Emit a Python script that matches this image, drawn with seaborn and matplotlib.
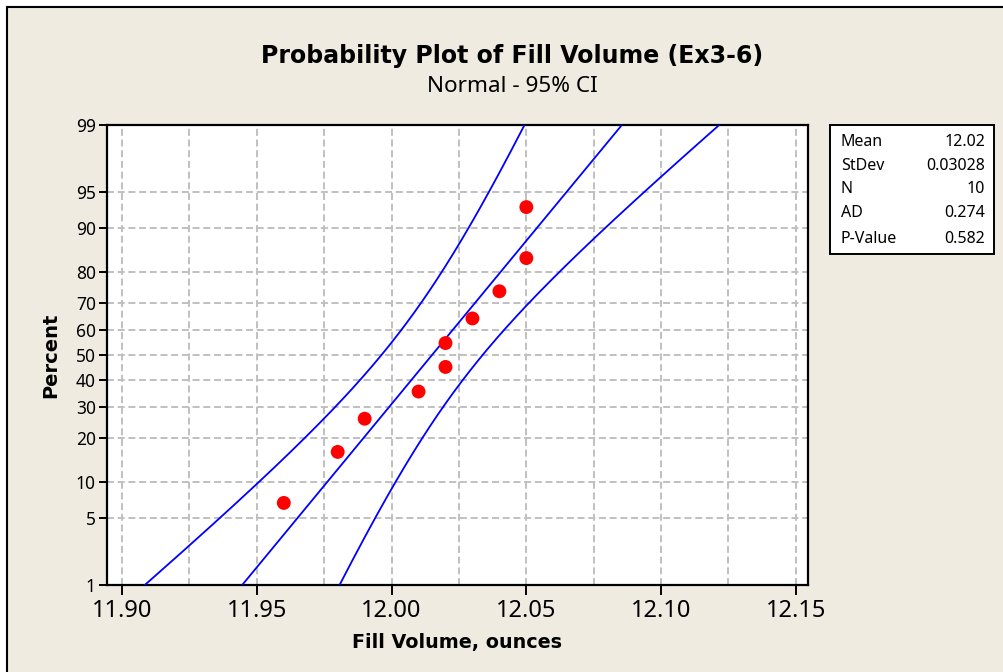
import numpy as np
import pandas as pd
import matplotlib
matplotlib.use("Agg")
import matplotlib.pyplot as plt
from matplotlib.patches import Rectangle
import seaborn as sns
from statistics import NormalDist

# ---------------- data ----------------
fill_volume = [11.96, 11.98, 11.99, 12.01, 12.02, 12.02, 12.03, 12.04, 12.05, 12.05]
percent_rank = [6.73, 16.35, 25.96, 35.58, 45.19, 54.81, 64.42, 74.04, 83.65, 93.27]
stat_labels = ["Mean", "StDev", "N", "AD", "P-Value"]
stat_values = ["12.02", "0.03028", "10", "0.274", "0.582"]
x_ticks = [11.90, 11.95, 12.00, 12.05, 12.10, 12.15]
y_ticks = [1, 5, 10, 20, 30, 40, 50, 60, 70, 80, 90, 95, 99]

sns.set_theme(style="white")
plt.rcParams["font.family"] = ["Noto Sans", "DejaVu Sans"]
plt.rcParams["text.color"] = "black"
BOLD = ["DejaVu Sans"]

BG = "#EFEBE1"
nd = NormalDist()
_ppf = np.vectorize(lambda v: nd.inv_cdf(v / 100.0), otypes=[float])
_cdf = np.vectorize(lambda v: nd.cdf(v) * 100.0, otypes=[float])

def _fwd(p):
    p = np.clip(np.asarray(p, float), 1e-7, 100 - 1e-7)
    return _ppf(p)

def _inv(z):
    return _cdf(np.asarray(z, float))

# fitted normal line and 95% CI from the data
x = np.array(fill_volume)
n = len(x)
mu = x.mean()
sd = x.std(ddof=1)
pgrid = np.linspace(1, 99, 300)
zg = _fwd(pgrid)
fit = mu + sd * zg
half = 1.96 * sd * np.sqrt(1.0 / n + zg ** 2 / (2.0 * n))
lines = pd.DataFrame({
    "x": np.concatenate([fit, fit - half, fit + half]),
    "p": np.concatenate([pgrid, pgrid, pgrid]),
    "which": ["fit"] * len(pgrid) + ["lo"] * len(pgrid) + ["hi"] * len(pgrid),
})
pts = pd.DataFrame({"x": fill_volume, "p": percent_rank})

fig = plt.figure(figsize=(10.04, 6.72), dpi=100)
fig.patch.set_facecolor("white")
fig.add_artist(Rectangle((6.5 / 1004, -0.05), 1.1, 1 - 6.5 / 672 + 0.05,
                         transform=fig.transFigure, facecolor=BG,
                         edgecolor="black", linewidth=1.5, zorder=-10))

ax = fig.add_axes([107 / 1004, 1 - 585 / 672, 701 / 1004, 460 / 672])
ax.set_facecolor("white")
ax.set_yscale("function", functions=(_fwd, _inv))

for w in ["lo", "fit", "hi"]:
    sns.lineplot(data=lines[lines["which"] == w], x="x", y="p", ax=ax,
                 sort=False, estimator=None, color="#0000FF", linewidth=1.3,
                 zorder=3)
sns.scatterplot(data=pts, x="x", y="p", ax=ax, color="#FF0000", s=100,
                edgecolor="none", zorder=4)

ax.set_xlim(11.8944, 12.1545)
ax.set_ylim(1, 99)
ax.set_xticks(x_ticks)
ax.set_xticklabels([f"{v:.2f}" for v in x_ticks])
ax.set_xticks(np.arange(11.925, 12.15, 0.05), minor=True)
ax.set_yticks(y_ticks)
ax.set_yticklabels([str(v) for v in y_ticks])
ax.yaxis.set_minor_locator(matplotlib.ticker.NullLocator())

grid_kw = dict(color="#C0C0C0", linewidth=1.4, linestyle=(0, (3.6, 1.9)), zorder=1)
ax.grid(False)
for v in np.arange(11.90, 12.151, 0.025):
    ax.axvline(v, **grid_kw)
for v in y_ticks[1:-1]:
    ax.axhline(v, **grid_kw)

for s in ax.spines.values():
    s.set_color("black")
    s.set_linewidth(1.6)
ax.tick_params(axis="x", which="major", direction="out", length=7, width=1.4,
               color="black", labelsize=17, pad=3, bottom=True, labelcolor="black")
ax.tick_params(axis="x", which="minor", length=0)
ax.tick_params(axis="y", which="major", direction="out", length=6, width=1.4,
               color="black", labelsize=12.5, pad=2, left=True, labelcolor="black")

ax.set_xlabel("Fill Volume, ounces", fontsize=13.8, fontweight="bold",
              family=BOLD, labelpad=7, color="black")
ax.set_ylabel("Percent", fontsize=14, fontweight="bold", family=BOLD,
              labelpad=11, color="black")

fig.text(512 / 1004, 1 - 56 / 672, "Probability Plot of Fill Volume (Ex3-6)",
         ha="center", va="center", fontsize=17, fontweight="bold", family=BOLD)
fig.text(512 / 1004, 1 - 86 / 672, "Normal - 95% CI", ha="center", va="center",
         fontsize=16.2)

# statistics box
box_ax = fig.add_axes([830 / 1004, 1 - 254 / 672, 164 / 1004, 129 / 672])
box_ax.set_xlim(0, 1)
box_ax.set_ylim(0, 1)
box_ax.set_xticks([])
box_ax.set_yticks([])
box_ax.set_facecolor("white")
for s in box_ax.spines.values():
    s.set_color("black")
    s.set_linewidth(1.4)
row_y = [142, 166, 189, 213, 239]
for lab, val, yy in zip(stat_labels, stat_values, row_y):
    yf = (254 - yy) / 129
    box_ax.text(11 / 164, yf, lab, ha="left", va="center", fontsize=11.5)
    box_ax.text(155 / 164, yf, val, ha="right", va="center", fontsize=11.5)

fig.savefig("out.png", dpi=100, facecolor=fig.get_facecolor())
